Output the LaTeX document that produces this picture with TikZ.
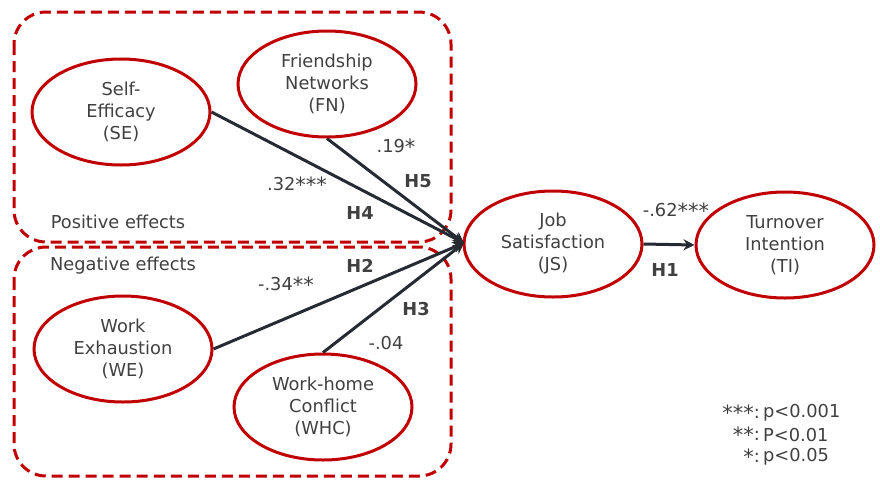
\documentclass[tikz,border=0pt]{standalone}
\usepackage{fontspec}
\setmainfont{DejaVu Sans}
\usetikzlibrary{shapes.geometric,arrows.meta}
\definecolor{cred}{HTML}{C00000}
\definecolor{cline}{HTML}{262A33}
\definecolor{ctext}{HTML}{404040}
\newcommand\sgstars[1]{\raisebox{-2pt}{\fontsize{21}{22}\selectfont #1}}
\begin{document}
\begin{tikzpicture}[x=1pt,y=-1pt,
  font=\fontsize{17.8}{22}\selectfont, text=ctext,
  construct/.style={ellipse,draw=cred,line width=3pt,minimum width=178pt,minimum height=106pt,inner sep=0pt,align=center},
  group/.style={draw=cred,line width=3pt,dash pattern=on 11pt off 6pt,rounded corners=32pt},
  path/.style={draw=cline,line width=3pt,-{Stealth[length=11pt,width=11pt]}},
  hyp/.style={font=\fontsize{17.8}{22}\selectfont\bfseries},
  lab/.style={}]
\useasboundingbox (0,0) rectangle (880,480);
\draw[group] (14,12) rectangle (451,242);
\draw[group] (14,247) rectangle (451,476);
\node[construct] (SE) at (121,112) {Self-\\Efficacy\\(SE)};
\node[construct] (FN) at (327,84) {Friendship\\Networks\\(FN)};
\node[construct] (WE) at (123,349) {Work\\Exhaustion\\(WE)};
\node[construct] (WHC) at (323,407) {Work-home\\Conflict\\(WHC)};
\node[construct] (JS) at (553,244) {Job\\Satisfaction\\(JS)};
\node[construct] (TI) at (785,245) {Turnover\\Intention\\(TI)};
\coordinate (in) at (464,243);
\draw[path] (SE.east) -- (in);
\draw[path] (FN.south) -- (in);
\draw[path] (WE.east) -- (in);
\draw[path] (WHC.north) -- (in);
\draw[path] (JS.east) -- (TI.west);
\node[lab] (l32) at (297,185) {.32\sgstars{***}};
\node[hyp] (h4) at (360,213) {H4};
\node[lab] (l19) at (396,147) {.19\sgstars{*}};
\node[hyp] (h5) at (418,181) {H5};
\node[lab] (pos) at (118,222) {Positive effects};
\node[lab] (neg) at (123,266) {Negative effects};
\node[hyp] (h2) at (360,266) {H2};
\node[lab] (l34) at (286,285) {-.34\sgstars{**}};
\node[hyp] (h3) at (416,309) {H3};
\node[lab] (l04) at (386,343) {-.04};
\node[lab] (l62) at (676,211) {-.62\sgstars{***}};
\node[hyp] (h1) at (665,270) {H1};
\node[anchor=east,inner sep=0pt] (s3) at (760,413) {\sgstars{***}:};
\node[anchor=west,inner sep=0pt] (p3) at (s3.east) {\,p<0.001};
\node[anchor=east,inner sep=0pt] (s2) at (760,435) {\sgstars{**}:};
\node[anchor=west,inner sep=0pt] (p2) at (s2.east) {\,P<0.01};
\node[anchor=east,inner sep=0pt] (s1) at (760,457) {\sgstars{*}:};
\node[anchor=west,inner sep=0pt] (p1) at (s1.east) {\,p<0.05};
\end{tikzpicture}
\end{document}
